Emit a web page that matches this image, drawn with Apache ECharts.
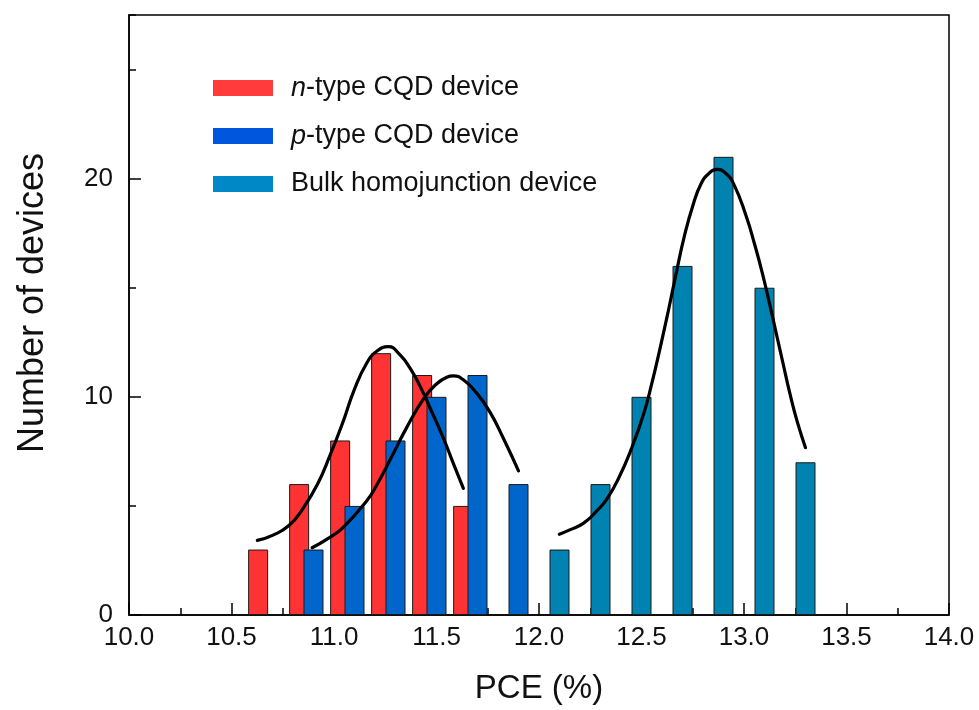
<!DOCTYPE html>
<html>
<head>
<meta charset="utf-8">
<title>PCE distribution</title>
<script src="https://cdn.jsdelivr.net/npm/echarts@6/dist/echarts.min.js"></script>
<style>
  html, body { margin: 0; padding: 0; background: #fff; }
  #chart { width: 979px; height: 710px; }
</style>
</head>
<body>
<div id="chart"></div>
<script>
// Histogram bins (PCE %, bin centre) and device counts
var nTypeX = [10.63, 10.83, 11.03, 11.23, 11.43, 11.63];
var nTypeCounts = [3, 6, 8, 12, 11, 5];
var pTypeX = [10.9, 11.1, 11.3, 11.5, 11.7, 11.9];
var pTypeCounts = [3, 5, 8, 10, 11, 6];
var bulkX = [12.1, 12.3, 12.5, 12.7, 12.9, 13.1, 13.3];
var bulkCounts = [3, 6, 10, 16, 21, 15, 7];

// Distribution fit curves (the peak is kept as its own point)
var nFitX = [10.626, 10.7, 10.78, 10.85, 10.92, 10.98, 11.04, 11.1, 11.16, 11.21, 11.265, 11.322, 11.371, 11.42, 11.468, 11.534, 11.582, 11.631];
var nFitY = [3.42, 3.65, 4.1, 4.9, 6.0, 7.3, 8.75, 10.35, 11.55, 12.1, 12.3, 11.92, 11.31, 10.48, 9.5, 8.1, 6.95, 5.8];
var pFitX = [10.893, 10.97, 11.045, 11.16, 11.208, 11.273, 11.355, 11.44, 11.501, 11.55, 11.582, 11.631, 11.696, 11.761, 11.826, 11.9];
var pFitY = [3.08, 3.5, 4.02, 5.24, 5.95, 7.1, 8.6, 9.95, 10.6, 10.9, 10.96, 10.78, 10.17, 9.3, 8.1, 6.61];
var bulkFitX = [12.099, 12.15, 12.216, 12.28, 12.33, 12.39, 12.45, 12.51, 12.55, 12.59, 12.63, 12.67, 12.71, 12.75, 12.79, 12.83, 12.87, 12.91, 12.95, 13.01, 13.05, 13.09, 13.13, 13.16, 13.19, 13.224, 13.26, 13.3];
var bulkFitY = [3.7, 3.9, 4.2, 4.75, 5.3, 6.3, 7.6, 9.2, 10.6, 12.2, 13.9, 15.7, 17.4, 18.75, 19.75, 20.25, 20.42, 20.25, 19.75, 18.3, 17.05, 15.65, 14.05, 12.8, 11.55, 10.15, 8.85, 7.67];

var seriesNames = ['n-type CQD device', 'p-type CQD device', 'Bulk homojunction device'];

function pairs(xs, ys) {
  return xs.map(function (x, i) { return [x, ys[i]]; });
}

var FONT = "'Liberation Sans', Arial, Helvetica, sans-serif";

function barSeries(name, xs, ys, color) {
  return {
    name: name,
    type: 'bar',
    data: pairs(xs, ys),
    barWidth: 20,
    barGap: '-100%',
    itemStyle: { color: color, borderColor: '#1a1a1a', borderWidth: 1 },
    emphasis: { disabled: true }
  };
}

function fitSeries(xs, ys) {
  return {
    type: 'line',
    data: pairs(xs, ys),
    smooth: 0.5,
    showSymbol: false,
    symbol: 'none',
    lineStyle: { color: '#000', width: 3.2, cap: 'round', join: 'round' },
    z: 5,
    emphasis: { disabled: true }
  };
}

var chart = echarts.init(document.getElementById('chart'), null, { renderer: 'canvas' });

chart.setOption({
  animation: false,
  textStyle: { fontFamily: FONT },
  grid: {
    left: 129, right: 30, top: 15, bottom: 92,
    show: true, borderColor: '#000', borderWidth: 1.5, backgroundColor: 'transparent'
  },
  legend: {
    orient: 'vertical',
    left: 208,
    top: 68,
    itemWidth: 60,
    itemHeight: 16,
    itemGap: 18,
    icon: 'rect',
    selectedMode: false,
    itemStyle: { borderWidth: 0 },
    data: [
      { name: seriesNames[0], itemStyle: { color: '#ff3b3b' } },
      { name: seriesNames[1], itemStyle: { color: '#0056dd' } },
      { name: seriesNames[2], itemStyle: { color: '#0088c6' } }
    ],
    formatter: function (name) {
      if (name === seriesNames[0]) return '{it|n}-type CQD device';
      if (name === seriesNames[1]) return '{it|p}-type CQD device';
      return name;
    },
    textStyle: {
      fontFamily: FONT, fontSize: 27, color: '#111', lineHeight: 30,
      padding: [0, 0, 0, 13],
      rich: { it: { fontFamily: FONT, fontSize: 27, fontStyle: 'italic', color: '#111', lineHeight: 30 } }
    }
  },
  xAxis: {
    type: 'value',
    min: 10, max: 14, interval: 0.5,
    name: 'PCE (%)',
    nameLocation: 'middle',
    nameGap: 57,
    nameTextStyle: { fontFamily: FONT, fontSize: 33, color: '#111' },
    axisLine: { show: true, onZero: false, lineStyle: { color: '#000', width: 1.5 } },
    axisTick: { show: true, inside: true, length: 12, lineStyle: { color: '#000', width: 1.5 } },
    minorTick: { show: true, splitNumber: 2, length: 7, lineStyle: { color: '#000', width: 1.5 } },
    axisLabel: {
      fontFamily: FONT, fontSize: 26, color: '#111', margin: 10,
      formatter: function (v) { return v.toFixed(1); }
    },
    splitLine: { show: false },
    minorSplitLine: { show: false }
  },
  yAxis: [
    {
      type: 'value',
      min: 0, max: 27.5, interval: 10,
      name: 'Number of devices',
      nameLocation: 'middle',
      nameGap: 78,
      nameTextStyle: { fontFamily: FONT, fontSize: 36, color: '#111', padding: [0, 0, 0, 24] },
      axisLine: { show: true, lineStyle: { color: '#000', width: 1.5 } },
      axisTick: { show: true, inside: true, length: 12, lineStyle: { color: '#000', width: 1.5 } },
      axisLabel: {
        fontFamily: FONT, fontSize: 26, color: '#111', margin: 16,
        showMaxLabel: false,
        formatter: function (v) { return v % 10 === 0 ? String(v) : ''; }
      },
      splitLine: { show: false }
    },
    {
      type: 'value',
      position: 'left',
      min: 0, max: 27.5, interval: 5,
      axisLine: { show: false },
      axisTick: { show: true, inside: true, length: 7, lineStyle: { color: '#000', width: 1.5 } },
      axisLabel: { show: false },
      splitLine: { show: false }
    }
  ],
  series: [
    barSeries(seriesNames[0], nTypeX, nTypeCounts, '#ff3333'),
    barSeries(seriesNames[1], pTypeX, pTypeCounts, '#0066cc'),
    barSeries(seriesNames[2], bulkX, bulkCounts, '#0083b0'),
    fitSeries(nFitX, nFitY),
    fitSeries(pFitX, pFitY),
    fitSeries(bulkFitX, bulkFitY)
  ]
});
</script>
</body>
</html>
